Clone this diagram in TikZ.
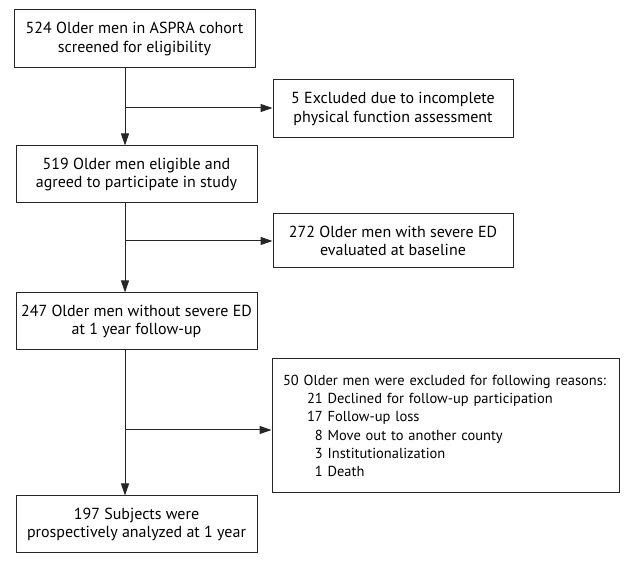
\documentclass[tikz,border=0pt]{standalone}
\usepackage{fontspec}
\setmainfont{PT Sans}
\usetikzlibrary{arrows.meta}
\begin{document}
\begin{tikzpicture}[x=1pt,y=-1pt,
  box/.style={draw=black!85, line width=1pt, inner sep=0pt, align=center,
    font=\fontsize{16}{18.2}\selectfont},
  conn/.style={draw=black!85, line width=1pt, -{Triangle[length=12pt,width=8pt]}}]
\useasboundingbox (0,0) rectangle (633,564);
\fill[white] (0,0) rectangle (633,564);
\node[box, minimum width=241pt, minimum height=58pt] (b1) at (134.5,39) {524 Older men in ASPRA cohort\\screened for eligibility};
\node[box, minimum width=241pt, minimum height=57pt] (b2) at (136.5,174.5) {519 Older men eligible and\\agreed to participate in study};
\node[box, minimum width=241pt, minimum height=57pt] (b3) at (136.5,321.5) {247 Older men without severe ED\\at 1 year follow-up};
\node[box, minimum width=241pt, minimum height=57pt] (b4) at (136.5,524.5) {197 Subjects were\\prospectively analyzed at 1 year};
\node[box, minimum width=240pt, minimum height=58pt] (e1) at (393,109) {5 Excluded due to incomplete\\physical function assessment};
\node[box, minimum width=240pt, minimum height=54pt] (e2) at (393,241) {272 Older men with severe ED\\evaluated at baseline};
\node[box, minimum width=347pt, minimum height=134pt, align=left, inner xsep=8pt, text width=331pt,
  font=\fontsize{14.5}{18.2}\selectfont] (e3) at (445.5,426) {%
\mbox{\hspace*{3pt}50 Older men were excluded for following reasons:}\\
\hspace*{27pt}21 Declined for follow-up participation\\
\hspace*{27pt}17 Follow-up loss\\
\hspace*{27pt}\phantom{0}8 Move out to another county\\
\hspace*{27pt}\phantom{0}3 Institutionalization\\
\hspace*{27pt}\phantom{0}1 Death};
\coordinate (t1) at (125,108);
\coordinate (t2) at (125,241);
\coordinate (t3) at (125,430);
\draw[conn] (b1.south -| t1) -- (b2.north -| t1);
\draw[conn] (t1) -- (t1 -| e1.west);
\draw[conn] (b2.south -| t2) -- (b3.north -| t2);
\draw[conn] (t2) -- (t2 -| e2.west);
\draw[conn] (b3.south -| t3) -- (b4.north -| t3);
\draw[conn] (t3) -- (t3 -| e3.west);
\end{tikzpicture}
\end{document}
